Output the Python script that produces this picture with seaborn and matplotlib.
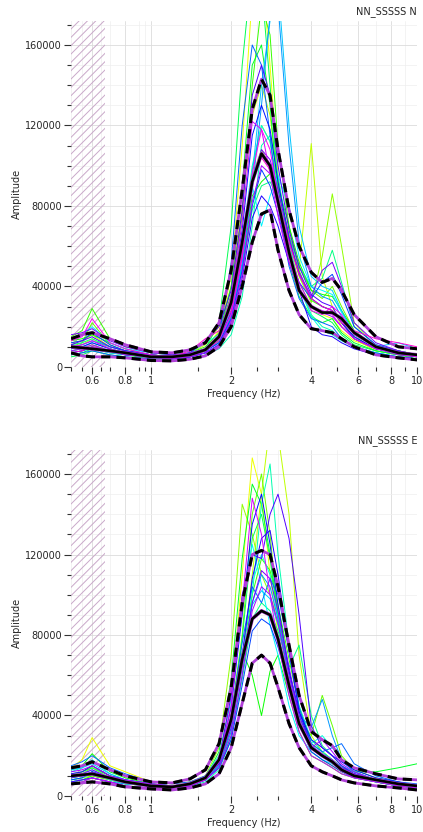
import numpy as np
import pandas as pd
import matplotlib
matplotlib.use("Agg")
import matplotlib.pyplot as plt
from matplotlib.ticker import FixedLocator, NullFormatter, FixedFormatter
import seaborn as sns

# frequency samples (Hz)
freqs = [0.5, 0.55, 0.6, 0.7, 0.8, 1.0, 1.2, 1.4, 1.6, 1.8, 2.0, 2.2, 2.4, 2.6,
         2.8, 3.0, 3.3, 3.6, 4.0, 4.4, 4.8, 5.2, 5.8, 7.0, 8.5, 10.0]

# ---- N component, amplitudes in thousands ----
n_windows = [
    [9, 11, 14, 9, 7, 5, 5, 6, 9, 18, 45, 110, 185, 200, 150, 95, 60, 42, 30, 26, 24, 18, 13, 9, 7, 6],
    [12, 13, 16, 10, 8, 6, 5, 7, 11, 20, 40, 80, 125, 140, 125, 92, 62, 48, 111, 45, 30, 20, 14, 8, 6, 5],
    [8, 9, 11, 8, 6, 5, 4, 5, 8, 14, 30, 60, 95, 108, 100, 85, 62, 45, 32, 55, 86, 60, 22, 10, 7, 6],
    [10, 12, 22, 11, 8, 6, 5, 6, 8, 13, 28, 58, 98, 120, 112, 90, 66, 50, 38, 34, 40, 30, 18, 10, 8, 6],
    [15, 18, 29, 14, 10, 7, 6, 7, 10, 17, 36, 75, 140, 180, 165, 110, 70, 48, 33, 30, 28, 22, 15, 9, 7, 5],
    [13, 14, 16, 12, 9, 6, 5, 6, 8, 13, 25, 50, 85, 92, 96, 90, 70, 52, 38, 36, 35, 28, 18, 10, 7, 6],
    [6, 7, 9, 7, 6, 4, 4, 5, 8, 16, 40, 90, 150, 160, 130, 85, 52, 35, 25, 22, 24, 17, 12, 8, 6, 4],
    [5, 6, 8, 6, 5, 4, 3, 5, 9, 22, 70, 150, 200, 190, 140, 90, 55, 38, 28, 25, 22, 16, 11, 8, 6, 5],
    [11, 12, 14, 10, 8, 6, 5, 6, 8, 12, 24, 48, 78, 90, 92, 84, 65, 50, 40, 44, 58, 42, 20, 11, 8, 6],
    [8, 9, 10, 8, 6, 5, 4, 4, 6, 9, 16, 35, 70, 110, 115, 95, 62, 40, 26, 20, 18, 14, 10, 7, 5, 4],
    [9, 10, 12, 9, 7, 5, 5, 7, 12, 16, 30, 62, 100, 120, 112, 86, 58, 40, 25, 18, 16, 13, 10, 7, 5, 4],
    [14, 16, 20, 12, 9, 7, 6, 7, 9, 14, 28, 58, 90, 70, 85, 95, 80, 55, 40, 38, 36, 27, 17, 10, 7, 6],
    [7, 8, 9, 7, 6, 5, 4, 5, 7, 11, 24, 50, 95, 140, 172, 190, 120, 70, 45, 40, 38, 28, 16, 10, 12, 9],
    [10, 11, 13, 10, 8, 6, 5, 6, 8, 12, 26, 52, 88, 130, 175, 180, 110, 62, 40, 35, 33, 25, 16, 10, 7, 6],
    [6, 7, 8, 6, 5, 4, 4, 5, 7, 15, 52, 120, 160, 150, 115, 80, 50, 34, 24, 22, 20, 14, 10, 7, 5, 4],
    [12, 13, 17, 11, 8, 6, 5, 6, 8, 12, 24, 48, 80, 98, 90, 76, 55, 42, 34, 42, 46, 36, 20, 11, 8, 6],
    [9, 10, 12, 9, 7, 5, 5, 6, 9, 15, 33, 68, 115, 130, 118, 92, 64, 46, 34, 30, 28, 22, 15, 9, 7, 5],
    [7, 8, 10, 8, 6, 5, 4, 5, 7, 11, 22, 44, 74, 85, 80, 70, 52, 38, 20, 16, 15, 12, 9, 6, 5, 4],
    [11, 13, 15, 10, 8, 6, 5, 7, 13, 20, 38, 78, 135, 150, 135, 100, 68, 50, 36, 32, 30, 22, 14, 9, 7, 6],
    [16, 17, 19, 13, 10, 7, 6, 7, 9, 14, 27, 56, 92, 108, 103, 88, 64, 47, 35, 48, 52, 40, 22, 12, 8, 6],
    [8, 9, 11, 8, 6, 5, 4, 5, 7, 11, 23, 46, 82, 100, 96, 80, 58, 42, 30, 27, 25, 20, 14, 9, 6, 5],
    [10, 11, 13, 9, 7, 5, 5, 6, 9, 16, 35, 72, 122, 118, 96, 75, 52, 38, 30, 28, 26, 20, 14, 9, 7, 5],
    [13, 15, 24, 12, 9, 6, 5, 6, 8, 13, 26, 54, 96, 118, 108, 85, 58, 40, 28, 26, 30, 26, 16, 10, 7, 5],
    [7, 8, 10, 8, 7, 5, 5, 8, 14, 18, 28, 55, 92, 104, 98, 84, 62, 46, 34, 30, 28, 22, 18, 14, 12, 10],
]
n_mean = [10, 9.5, 9, 8, 7, 5, 5, 6, 8.5, 15, 32, 62, 92, 106, 100, 82, 57, 38, 30, 27, 27, 24, 17, 10, 7, 6]
n_upper = [14, 16, 17, 14, 11, 7.5, 7, 8.5, 12, 22, 48, 88, 128, 143, 135, 108, 78, 60, 47, 42, 44, 38, 26, 15, 10, 9]
n_lower = [7, 5.5, 5, 5, 4.5, 3.2, 3, 3.8, 5.5, 10, 20, 40, 62, 76, 78, 58, 38, 26, 19, 18, 17, 14, 10, 6, 4.5, 3.5]

# ---- E component, amplitudes in thousands ----
e_windows = [
    [14, 18, 29, 15, 12, 7, 6, 7, 10, 20, 48, 110, 168, 150, 110, 80, 55, 36, 22, 18, 15, 12, 10, 8, 6, 5],
    [8, 9, 10, 8, 6, 5, 4, 5, 8, 15, 32, 68, 110, 150, 185, 180, 140, 70, 30, 22, 18, 14, 11, 8, 6, 5],
    [9, 11, 14, 9, 7, 5, 5, 6, 10, 24, 70, 145, 130, 110, 100, 85, 58, 38, 24, 20, 17, 13, 10, 8, 6, 5],
    [10, 12, 15, 10, 8, 6, 5, 6, 9, 18, 40, 80, 140, 160, 130, 90, 60, 38, 30, 50, 35, 20, 13, 9, 7, 5],
    [7, 8, 10, 8, 6, 5, 4, 5, 8, 16, 36, 70, 100, 118, 112, 95, 68, 44, 26, 22, 18, 14, 10, 7, 5, 4],
    [13, 15, 21, 12, 9, 6, 5, 6, 9, 17, 38, 72, 60, 40, 62, 70, 50, 32, 20, 17, 14, 11, 9, 7, 5, 4],
    [6, 7, 9, 7, 5, 4, 4, 5, 9, 22, 58, 118, 155, 145, 120, 90, 62, 40, 25, 20, 18, 14, 12, 12, 14, 16],
    [11, 12, 14, 10, 8, 6, 5, 6, 9, 17, 38, 78, 128, 140, 118, 88, 56, 36, 24, 20, 16, 13, 10, 7, 5, 4],
    [9, 10, 12, 9, 7, 5, 5, 6, 8, 14, 30, 58, 88, 96, 92, 82, 64, 75, 40, 25, 20, 15, 11, 8, 6, 5],
    [8, 9, 11, 8, 6, 5, 4, 5, 7, 13, 28, 60, 100, 145, 165, 120, 75, 45, 28, 22, 18, 14, 10, 7, 5, 4],
    [12, 14, 18, 11, 8, 6, 5, 6, 9, 16, 34, 68, 106, 120, 110, 88, 60, 40, 26, 30, 24, 18, 12, 8, 6, 5],
    [10, 11, 13, 9, 7, 5, 5, 6, 10, 20, 48, 98, 125, 105, 85, 70, 45, 30, 22, 18, 16, 14, 11, 8, 6, 5],
    [13, 14, 16, 11, 8, 6, 5, 6, 8, 15, 34, 66, 95, 102, 98, 85, 60, 38, 24, 20, 17, 15, 12, 8, 6, 5],
    [7, 8, 9, 7, 6, 5, 4, 5, 8, 15, 32, 64, 96, 110, 104, 88, 62, 40, 34, 48, 30, 18, 12, 8, 6, 5],
    [15, 17, 20, 14, 11, 7, 6, 7, 10, 18, 40, 76, 104, 96, 108, 100, 72, 44, 26, 22, 24, 26, 16, 10, 7, 6],
    [8, 9, 12, 9, 7, 5, 4, 5, 8, 14, 28, 55, 82, 88, 85, 74, 55, 36, 22, 18, 15, 12, 9, 7, 5, 4],
    [9, 10, 12, 9, 7, 5, 5, 6, 9, 18, 44, 90, 135, 150, 125, 95, 62, 42, 28, 24, 20, 17, 13, 9, 7, 5],
    [11, 12, 15, 10, 8, 6, 5, 6, 9, 16, 36, 70, 108, 128, 132, 110, 72, 42, 25, 20, 17, 14, 11, 8, 6, 5],
    [7, 8, 9, 7, 5, 4, 4, 5, 8, 18, 50, 100, 120, 118, 140, 150, 128, 90, 35, 24, 20, 15, 11, 8, 6, 5],
    [10, 11, 13, 9, 7, 5, 5, 6, 9, 16, 34, 65, 96, 112, 108, 92, 64, 40, 25, 21, 18, 14, 11, 8, 6, 5],
    [12, 13, 15, 10, 8, 6, 5, 6, 8, 14, 30, 60, 92, 104, 100, 86, 60, 38, 24, 28, 22, 16, 12, 8, 6, 5],
    [6, 7, 9, 7, 5, 4, 4, 5, 8, 17, 45, 95, 148, 130, 100, 76, 50, 32, 20, 17, 14, 11, 9, 7, 5, 4],
]
e_mean = [10, 10.5, 11, 9, 7, 5, 4.5, 6, 9, 18, 38, 68, 88, 92, 90, 78, 55, 36, 24, 20, 17, 13, 10, 8, 6, 5]
e_upper = [14, 15, 17, 13, 10, 7, 6.5, 8.5, 13, 26, 54, 96, 120, 122, 120, 104, 75, 50, 32, 28, 25, 18, 14, 11, 8.5, 8]
e_lower = [6, 6.5, 7, 6, 4.5, 3.5, 3, 4, 6, 11, 24, 46, 66, 70, 66, 54, 36, 24, 15, 12, 10, 8, 6.5, 5, 4, 3]

titles = ["NN_SSSSS N", "NN_SSSSS E"]

sns.set_style("white")
plt.rcParams['font.family'] = ['DejaVu Sans']
plt.rcParams['hatch.linewidth'] = 0.7


def to_long(windows):
    rows = []
    for i, w in enumerate(windows):
        for f, a in zip(freqs, w):
            rows.append({'win': i, 'freq': f, 'amp': a * 1000})
    return pd.DataFrame(rows)


def draw_panel(ax, windows, mean, upper, lower, title):
    df = to_long(windows)
    pal = sns.color_palette("hsv", 32)[5:5 + len(windows)]
    ax.axvspan(0.5, 0.67, facecolor='none', edgecolor='#c9a9c9', hatch='////', lw=0, zorder=1)
    sns.lineplot(data=df, x='freq', y='amp', hue='win', palette=pal, lw=0.7,
                 estimator=None, legend=False, ax=ax, zorder=2)
    f = np.array(freqs)
    for curve in (upper, lower):
        a = np.array(curve) * 1000
        ax.plot(f, a, color='#b040d8', lw=2.0, zorder=3)
        ax.plot(f, a, color='black', lw=2.2, dashes=(3, 2), zorder=4)
    ax.plot(f, np.array(mean) * 1000, color='#b040d8', lw=2.6, zorder=3)
    ax.plot(f, np.array(mean) * 1000, color='black', lw=1.9, zorder=4)

    ax.set_xscale('log')
    ax.set_xlim(0.5, 10)
    ax.set_ylim(0, 172000)
    for s in ax.spines.values():
        s.set_visible(False)

    xmaj = [0.6, 0.8, 1, 2, 4, 6, 8, 10]
    ax.xaxis.set_major_locator(FixedLocator(xmaj))
    ax.xaxis.set_major_formatter(FixedFormatter(['0.6', '0.8', '1', '2', '4', '6', '8', '10']))
    ax.xaxis.set_minor_locator(FixedLocator([0.5, 0.55, 0.65, 0.7, 0.9, 0.95, 1.5, 2.5, 3, 5, 7, 9]))
    ax.xaxis.set_minor_formatter(NullFormatter())
    ax.yaxis.set_major_locator(FixedLocator([0, 40000, 80000, 120000, 160000]))
    ax.yaxis.set_minor_locator(FixedLocator(list(range(10000, 172000, 10000))))
    ax.tick_params(axis='both', which='major', direction='out', length=5, width=0.8,
                   color='#333333', labelsize=7, pad=1.5, left=True, bottom=True)
    ax.tick_params(axis='both', which='minor', direction='out', length=3, width=0.8,
                   color='#333333', left=True, bottom=True)

    ax.grid(True, which='major', color='#dcdcdc', lw=0.6, zorder=0)
    ax.grid(True, which='minor', color='#eeeeee', lw=0.5, zorder=0)
    ax.set_axisbelow(True)

    ax.set_xlabel('Frequency (Hz)', fontsize=7, labelpad=2)
    ax.set_ylabel('Amplitude', fontsize=7, labelpad=2)
    ax.text(1.0, 1.012, title, transform=ax.transAxes, ha='right', va='bottom', fontsize=7)


fig = plt.figure(figsize=(4.23, 8.32), dpi=100)
ax1 = fig.add_axes([0.168, 0.559, 0.818, 0.416])
ax2 = fig.add_axes([0.168, 0.0433, 0.818, 0.416])
draw_panel(ax1, n_windows, n_mean, n_upper, n_lower, titles[0])
draw_panel(ax2, e_windows, e_mean, e_upper, e_lower, titles[1])
fig.savefig('out.png', dpi=100)
